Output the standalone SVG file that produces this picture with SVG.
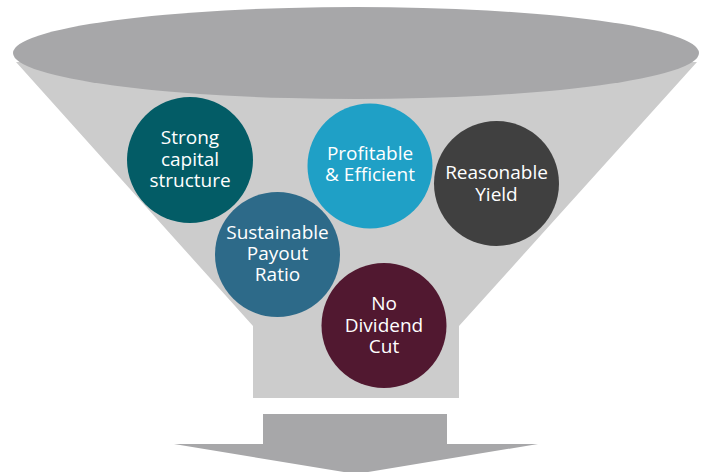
<svg xmlns="http://www.w3.org/2000/svg" width="704" height="472" viewBox="0 0 704 472">
<style>
.lbl{font-family:"Open Sans","Liberation Sans",sans-serif;font-size:19px;fill:#ffffff;text-anchor:middle}
.body{fill:#cccccc}
.dark{fill:#a7a7a9}
</style>
<rect width="704" height="472" fill="#ffffff"/>
<g id="funnel">
<path class="body" d="M16,62 L697,62 L459,326 L459,398 L253,398 L253,326 Z"/>
<ellipse class="dark" cx="356" cy="53" rx="343" ry="46"/>
</g>
<g id="arrow">
<path class="dark" d="M263,414 L447,414 L447,444 L538,444 L356,474 L174,444 L263,444 Z"/>
</g>
<g id="strong">
<circle cx="190" cy="160" r="63" fill="#035c66"/>
<text class="lbl" x="190" y="144">Strong</text>
<text class="lbl" x="190" y="166">capital</text>
<text class="lbl" x="190" y="187">structure</text>
</g>
<g id="profitable">
<circle cx="370" cy="166" r="62.5" fill="#1fa0c6"/>
<text class="lbl" x="370" y="160">Profitable</text>
<text class="lbl" x="370" y="181">&amp; Efficient</text>
</g>
<g id="yield">
<circle cx="496.5" cy="183.5" r="62.5" fill="#404040"/>
<text class="lbl" x="496.5" y="179">Reasonable</text>
<text class="lbl" x="496.5" y="201">Yield</text>
</g>
<g id="payout">
<circle cx="277.5" cy="254.5" r="62.5" fill="#2d6a89"/>
<text class="lbl" x="277.5" y="239">Sustainable</text>
<text class="lbl" x="277.5" y="260">Payout</text>
<text class="lbl" x="277.5" y="281">Ratio</text>
</g>
<g id="nocut">
<circle cx="384" cy="325.5" r="62.5" fill="#511830"/>
<text class="lbl" x="384" y="310">No</text>
<text class="lbl" x="384" y="332">Dividend</text>
<text class="lbl" x="384" y="353">Cut</text>
</g>
<g id="connectors"></g>
</svg>
